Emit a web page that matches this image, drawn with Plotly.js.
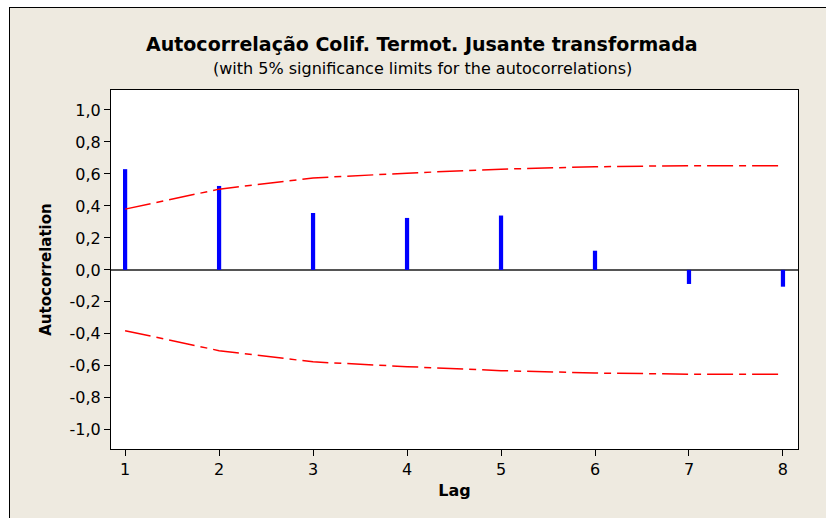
<!DOCTYPE html>
<html>
<head>
<meta charset="utf-8">
<script src="https://cdn.plot.ly/plotly-3.0.1.min.js"></script>
<style>
  html, body { margin: 0; padding: 0; background: #ffffff; width: 826px; height: 518px; overflow: hidden; }
  #chart { position: absolute; left: 9px; top: 7px; width: 816px; height: 510px;
           border-left: 1px solid #000; border-top: 1px solid #000; }
</style>
</head>
<body>
<div id="chart"></div>
<script>
const lags = [1, 2, 3, 4, 5, 6, 7, 8];
const acf = [0.63, 0.525, 0.356, 0.325, 0.34, 0.12, -0.088, -0.105];
const upperLimit = [0.38, 0.505, 0.575, 0.605, 0.63, 0.645, 0.652, 0.652];
const lowerLimit = upperLimit.map(v => -v);
const yTicks = [-1.0, -0.8, -0.6, -0.4, -0.2, 0.0, 0.2, 0.4, 0.6, 0.8, 1.0];
const xTicks = [1, 2, 3, 4, 5, 6, 7, 8];

const FONT = 'DejaVu Sans, Verdana, sans-serif';
const limitLine = { color: '#ff0000', width: 1.5, dash: '26px,6px,7px,6px' };

const traces = [
  { type: 'scatter', mode: 'lines', x: lags, y: upperLimit, line: limitLine, hoverinfo: 'skip' },
  { type: 'scatter', mode: 'lines', x: lags, y: lowerLimit, line: limitLine, hoverinfo: 'skip' },
  { type: 'bar', x: lags, y: acf, width: 0.045, marker: { color: '#0000ff', line: { width: 0 } } }
];

const layout = {
  width: 816, height: 510,
  margin: { l: 101, r: 28, t: 82, b: 69 },
  paper_bgcolor: '#eeeae0',
  plot_bgcolor: '#ffffff',
  showlegend: false,
  separators: ',.',
  font: { family: FONT, color: '#000', size: 16 },
  xaxis: {
    range: [0.85, 8.16],
    tickmode: 'array', tickvals: xTicks, ticktext: xTicks.map(String),
    ticks: 'outside', ticklen: 6, tickcolor: '#000', tickwidth: 1,
    showgrid: false, zeroline: false,
    showline: true, mirror: true, linecolor: '#000', linewidth: 1,
    tickfont: { family: FONT, size: 16, color: '#000' },
    title: { text: '<b>Lag</b>', font: { family: FONT, size: 16, color: '#000' }, standoff: 6 }
  },
  yaxis: {
    range: [-1.12, 1.125],
    tickmode: 'array', tickvals: yTicks, ticktext: yTicks.map(v => v.toFixed(1).replace('.', ',')),
    ticks: 'outside', ticklen: 6, tickcolor: '#000', tickwidth: 1,
    showgrid: false,
    zeroline: true, zerolinecolor: '#555555', zerolinewidth: 1.5,
    showline: true, mirror: true, linecolor: '#000', linewidth: 1,
    tickfont: { family: FONT, size: 16, color: '#000' },
    title: { text: '<b>Autocorrelation</b>', font: { family: FONT, size: 15, color: '#000' }, standoff: 14 }
  },
  annotations: [
    { text: '<b>Autocorrelação Colif. Termot. Jusante transformada</b>',
      xref: 'paper', yref: 'paper', x: (412 - 101) / 687, y: 1 + (82 - 36) / 359,
      xanchor: 'center', yanchor: 'middle', showarrow: false,
      font: { family: FONT, size: 19, color: '#000' } },
    { text: '(with 5% significance limits for the autocorrelations)',
      xref: 'paper', yref: 'paper', x: (412 - 101) / 687, y: 1 + (82 - 60) / 359,
      xanchor: 'center', yanchor: 'middle', showarrow: false,
      font: { family: FONT, size: 16, color: '#000' } }
  ]
};

Plotly.newPlot('chart', traces, layout, { displayModeBar: false, staticPlot: true });
</script>
</body>
</html>
